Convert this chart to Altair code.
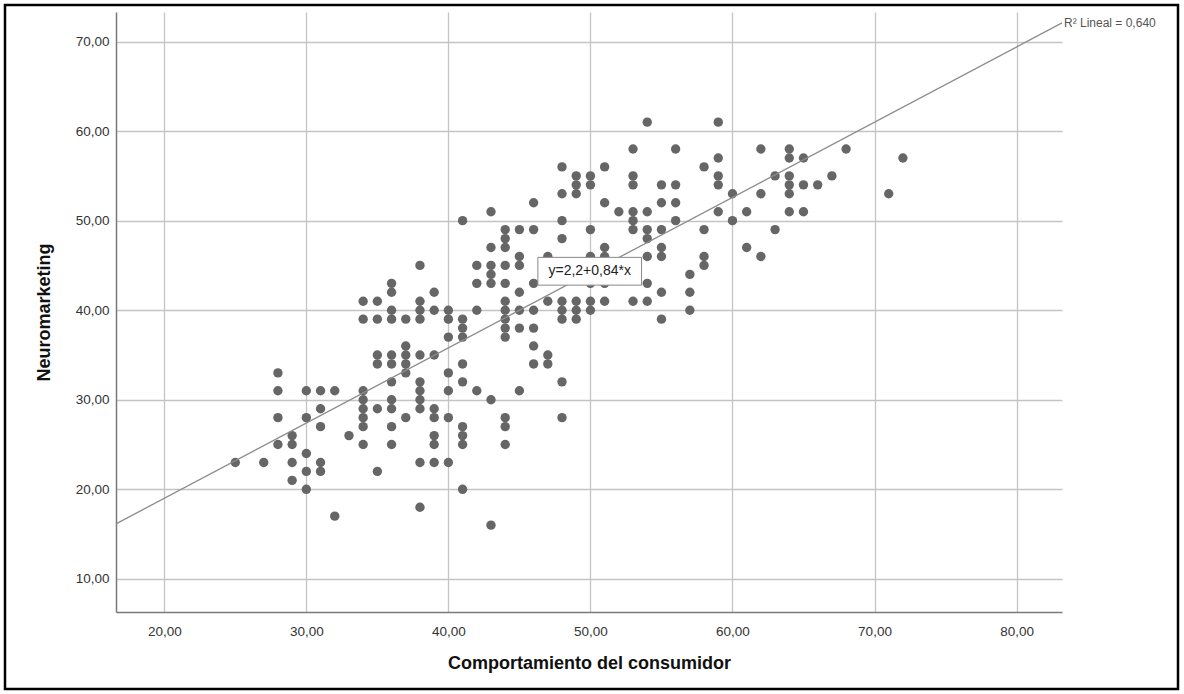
import altair as alt
import pandas as pd

# ---- data (integer-valued scores) ----
comportamiento_cols = [25, 27, 28, 29, 30, 31, 32, 33, 34, 35, 36, 37, 38, 39, 40, 41, 42,
                       43, 44, 45, 46, 47, 48, 49, 50, 51, 52, 53, 54, 55, 56, 57, 58, 59,
                       60, 61, 62, 63, 64, 65, 66, 67, 68, 71, 72]
neuromarketing_cols = [
    [23], [23], [33, 31, 28, 25], [26, 25, 23, 21], [31, 28, 24, 22, 20],
    [31, 29, 27, 23, 22], [31, 17], [26], [41, 39, 31, 30, 29, 28, 27, 25],
    [41, 39, 35, 34, 29, 22], [43, 42, 40, 39, 35, 34, 32, 30, 29, 27, 25],
    [39, 36, 35, 34, 33, 28], [45, 41, 40, 39, 35, 32, 31, 30, 29, 23, 18],
    [42, 40, 35, 29, 28, 26, 25, 23], [40, 39, 37, 33, 31, 28, 23],
    [50, 39, 38, 37, 34, 32, 27, 26, 25, 20], [45, 43, 40, 31],
    [51, 47, 45, 44, 43, 30, 16], [49, 48, 47, 45, 43, 41, 40, 39, 38, 37, 28, 27, 25],
    [49, 46, 45, 42, 40, 38, 31], [52, 49, 43, 40, 38, 36, 34], [46, 41, 35, 34],
    [56, 53, 50, 48, 41, 40, 39, 32, 28], [55, 54, 53, 41, 40, 39],
    [55, 54, 49, 46, 43, 41, 40], [56, 52, 47, 46, 43, 41], [51],
    [58, 55, 54, 51, 50, 49, 41], [61, 51, 49, 48, 46, 43, 41],
    [54, 52, 49, 47, 46, 42, 39], [58, 54, 52, 50], [44, 42, 40], [56, 49, 46, 45],
    [61, 57, 55, 54, 51], [53, 50], [51, 47], [58, 53, 46], [55, 49],
    [58, 57, 55, 54, 53, 51], [57, 54, 51], [54], [55], [58], [53], [57],
]

x_ticks = [20, 30, 40, 50, 60, 70, 80]
y_ticks = [10, 20, 30, 40, 50, 60, 70]
x_domain = [16.6, 83.2]
y_domain = [6.3, 73.3]

fit_intercept = 2.2
fit_slope = 0.84
fit_label = "y=2,2+0,84*x"
r2_label = "R² Lineal = 0,640"
eq_box_x = [46.3, 53.6]
eq_box_y = [42.8, 45.9]

rows = []
for xv, ys in zip(comportamiento_cols, neuromarketing_cols):
    for yv in ys:
        rows.append({"x": xv, "y": yv})
points_df = pd.DataFrame(rows)

fit_df = pd.DataFrame({"x": x_domain,
                       "y": [fit_intercept + fit_slope * v for v in x_domain]})
r2_df = pd.DataFrame({"x": [x_domain[1]], "y": [fit_intercept + fit_slope * x_domain[1]],
                      "t": [r2_label]})
eq_df = pd.DataFrame({"x": [eq_box_x[0]], "x2": [eq_box_x[1]],
                      "y": [eq_box_y[0]], "y2": [eq_box_y[1]],
                      "xc": [sum(eq_box_x) / 2], "yc": [sum(eq_box_y) / 2],
                      "t": [fit_label]})

FONT = "Liberation Sans"
label_expr = "replace(format(datum.value, '.2f'), '.', ',')"

xscale = alt.Scale(domain=x_domain, nice=False, zero=False)
yscale = alt.Scale(domain=y_domain, nice=False, zero=False)

xaxis = alt.Axis(values=x_ticks, labelExpr=label_expr, title="Comportamiento del consumidor",
                 ticks=False, labelPadding=12, grid=True, titleY=56,
                 titleBaseline="alphabetic")
yaxis = alt.Axis(values=y_ticks, labelExpr=label_expr, title="Neuromarketing",
                 ticks=False, labelPadding=7, grid=True, titleX=-63)

points = alt.Chart(points_df).mark_circle(size=88, color="#666666", opacity=1).encode(
    x=alt.X("x:Q", scale=xscale, axis=xaxis),
    y=alt.Y("y:Q", scale=yscale, axis=yaxis),
)

fit = alt.Chart(fit_df).mark_line(color="#8c8c8c", strokeWidth=1.3).encode(
    x=alt.X("x:Q", scale=xscale), y=alt.Y("y:Q", scale=yscale))

r2 = alt.Chart(r2_df).mark_text(align="left", baseline="middle", dx=2, font=FONT,
                                fontSize=12, color="#555555").encode(
    x="x:Q", y="y:Q", text="t:N")

eq_box = alt.Chart(eq_df).mark_rect(fill="white", stroke="#888888", strokeWidth=1).encode(
    x="x:Q", x2="x2", y="y:Q", y2="y2")
eq_text = alt.Chart(eq_df).mark_text(font=FONT, fontSize=14, color="#222222",
                                     baseline="middle").encode(
    x="xc:Q", y="yc:Q", text="t:N")

frame = alt.Chart(pd.DataFrame({"a": [0]})).mark_rect(
    filled=False, stroke="black", strokeWidth=2.5).encode(
    x=alt.value(-111), x2=alt.value(1062), y=alt.value(-7), y2=alt.value(677))

chart = alt.layer(points, fit, eq_box, eq_text, r2, frame).properties(
    width=946, height=600,
    autosize=alt.AutoSizeParams(type="none"),
    padding={"left": 116, "top": 12, "right": 122, "bottom": 82},
).configure_view(stroke=None).configure_axis(
    labelFont=FONT, labelFontSize=13.5, labelColor="#333333",
    titleFont=FONT, titleFontSize=18, titleFontWeight="bold", titleColor="#111111",
    domainColor="#7a7a7a", domainWidth=1.5,
    gridColor="#c4c4c4", gridWidth=1.3,
)

chart.save("out.html", embed_options={"renderer": "svg", "actions": False})
